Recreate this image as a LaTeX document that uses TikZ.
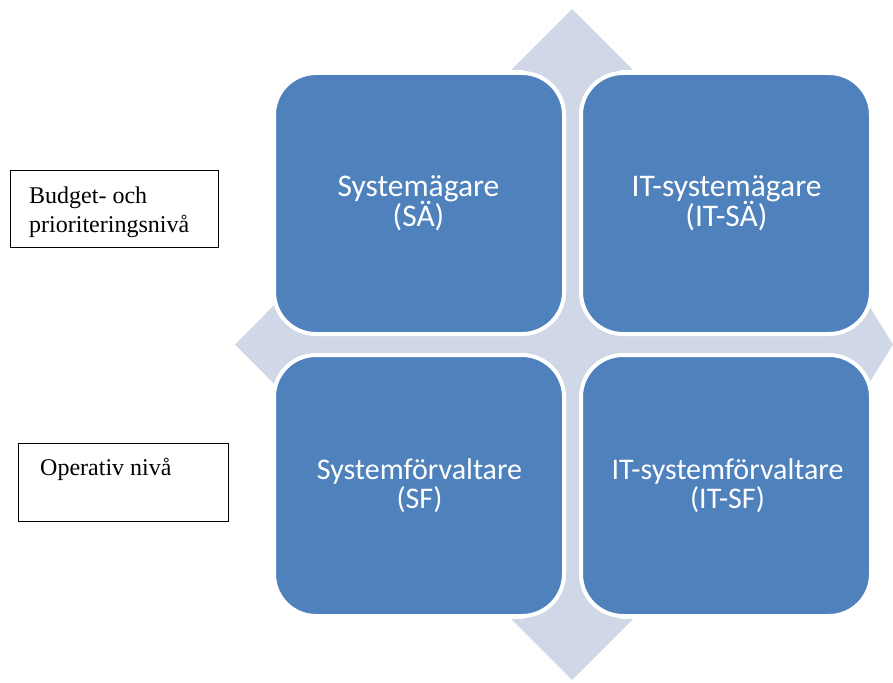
\documentclass[tikz,border=0pt]{standalone}
\usepackage{fontspec}
\setmainfont{Liberation Serif}
\newfontfamily\cellfont{Carlito}
\definecolor{cellblue}{HTML}{4F81BD}
\definecolor{arrowshade}{HTML}{D0D8E8}
\begin{document}
\begin{tikzpicture}[x=1pt,y=-1pt,
  cell/.style={fill=cellblue, draw=white, line width=4pt, rounded corners=42pt,
    minimum width=290pt, minimum height=261pt, inner sep=0pt},
  celltext/.style={anchor=base, inner sep=0pt, text=white},
  levelbox/.style={draw=black, line width=1pt, inner sep=0pt},
  leveltext/.style={font=\fontsize{24}{29}\selectfont, anchor=base west, inner sep=0pt}]
\useasboundingbox (0,0) rectangle (893,682);

% four-way arrow behind the matrix
\begin{scope}
  \clip (0,0) rectangle (893,682);
  \fill[arrowshade]
    (572,9) -- (633,70) -- (620,70) -- (620,296) -- (855,296) -- (855,283)
    -- (893,344.5) -- (855,406) -- (855,393) -- (620,393) -- (620,619) -- (633,619)
    -- (572,680) -- (511,619) -- (524,619) -- (524,393) -- (296,393) -- (296,406)
    -- (235,344.5) -- (296,283) -- (296,296) -- (524,296) -- (524,70) -- (511,70)
    -- cycle;
\end{scope}

% role matrix
\node[cell] (sa)   at (419,203.5) {};
\node[cell] (itsa) at (726,203.5) {};
\node[cell] (sf)   at (419,485.5) {};
\node[cell] (itsf) at (726,485.5) {};

\node[celltext] (satext) at (418.5,196)
  {\parbox[t]{280pt}{\centering\cellfont\fontsize{31.5}{30.7}\selectfont Systemägare\\(SÄ)}};
\node[celltext] (itsatext) at (726.5,196)
  {\parbox[t]{280pt}{\centering\cellfont\fontsize{31.5}{30.7}\selectfont IT-systemägare\\(IT-SÄ)}};
\node[celltext] (sftext) at (419.5,479.3)
  {\parbox[t]{280pt}{\centering\cellfont\fontsize{30}{29}\selectfont Systemförvaltare\\(SF)}};
\node[celltext] (itsftext) at (727.5,479.3)
  {\parbox[t]{280pt}{\centering\cellfont\fontsize{30}{29}\selectfont IT-systemförvaltare\\(IT-SF)}};

% level labels
\node[levelbox, minimum width=208pt, minimum height=77pt] (budget) at (114,208.5) {};
\node[leveltext] (budgettext) at (29,203)
  {\parbox[t]{200pt}{\baselineskip=29pt Budget- och\\prioriteringsnivå}};
\node[levelbox, minimum width=210pt, minimum height=78pt] (operativ) at (123,482) {};
\node[leveltext] (operativtext) at (40,475) {Operativ nivå};
\end{tikzpicture}
\end{document}
